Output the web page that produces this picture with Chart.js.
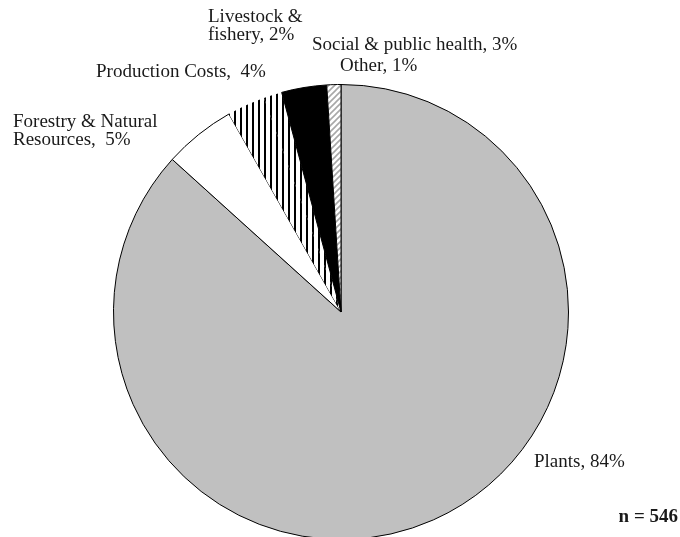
<!DOCTYPE html>
<html lang="en">
<head>
    <meta charset="UTF-8">
    <title>Research topics</title>
    <style>
        body {
            margin: 0;
            padding: 0;
            background-color: #fff;
            overflow: hidden;
        }

        #wrap {
            position: relative;
            width: 680px;
            height: 560px;
        }
    </style>
</head>
<body>
    <div id="wrap"><canvas id="pieChart"></canvas></div>

    <script src="https://cdn.jsdelivr.net/npm/chart.js"></script>
    <script>
        // categories, in drawing order (clockwise from 12 o'clock)
        const categories = ['Plants', 'Forestry & Natural Resources', 'Production Costs', 'Livestock & fishery', 'Social & public health', 'Other'];
        // percentages printed in the labels
        const labelPercents = [84, 5, 4, 2, 3, 1];
        // slice sizes (%)
        const sliceShares = [86.7, 5.1, 2.7, 1.3, 3.2, 1.0];
        const sampleSize = 546;

        function stripePattern() {
            const c = document.createElement('canvas');
            c.width = 6; c.height = 6;
            const g = c.getContext('2d');
            g.fillStyle = '#fff';
            g.fillRect(0, 0, 6, 6);
            g.fillStyle = '#000';
            g.fillRect(0, 0, 2, 6);
            return g.createPattern(c, 'repeat');
        }

        function hatchPattern() {
            const c = document.createElement('canvas');
            c.width = 6; c.height = 6;
            const g = c.getContext('2d');
            g.fillStyle = '#fff';
            g.fillRect(0, 0, 6, 6);
            g.strokeStyle = '#a8a8a8';
            g.lineWidth = 1.6;
            g.beginPath();
            g.moveTo(-1, 7); g.lineTo(7, -1);
            g.moveTo(-4, 4); g.lineTo(4, -4);
            g.moveTo(2, 10); g.lineTo(10, 2);
            g.stroke();
            return g.createPattern(c, 'repeat');
        }

        const stripes = stripePattern();
        const fills = ['#c0c0c0', '#ffffff', stripes, stripes, '#000000', hatchPattern()];

        // label text is drawn where the original report put it
        const labelPlugin = {
            id: 'sliceLabels',
            afterDraw(chart) {
                const ctx = chart.ctx;
                ctx.save();
                ctx.fillStyle = '#1a1a1a';
                ctx.font = '19px "Liberation Serif", serif';
                ctx.textBaseline = 'middle';
                ctx.textAlign = 'left';
                const p = labelPercents;
                ctx.fillText('Livestock &', 208, 17);
                ctx.fillText('fishery, ' + p[3] + '%', 208, 35);
                ctx.fillText('Production Costs,  ' + p[2] + '%', 96, 72);
                ctx.fillText('Forestry & Natural', 13, 122);
                ctx.fillText('Resources,  ' + p[1] + '%', 13, 140);
                ctx.fillText('Social & public health, ' + p[4] + '%', 312, 45);
                ctx.fillText('Other, ' + p[5] + '%', 340, 66);
                ctx.fillText('Plants, ' + p[0] + '%', 534, 462);
                ctx.font = 'bold 19px "Liberation Serif", serif';
                ctx.textAlign = 'right';
                ctx.fillText('n = ' + sampleSize, 678, 517);
                ctx.restore();
            }
        };

        const ctx = document.getElementById('pieChart').getContext('2d');
        new Chart(ctx, {
            type: 'pie',
            data: {
                labels: categories,
                datasets: [{
                    data: sliceShares,
                    backgroundColor: fills,
                    borderColor: '#000',
                    borderWidth: [1, 1, 0, 0, 1, 1]
                }]
            },
            options: {
                responsive: true,
                maintainAspectRatio: false,
                animation: false,
                layout: {
                    padding: { top: 84, bottom: 20, left: 113, right: 111 }
                },
                plugins: {
                    legend: { display: false },
                    tooltip: { enabled: false }
                }
            },
            plugins: [labelPlugin]
        });
    </script>
</body>
</html>
